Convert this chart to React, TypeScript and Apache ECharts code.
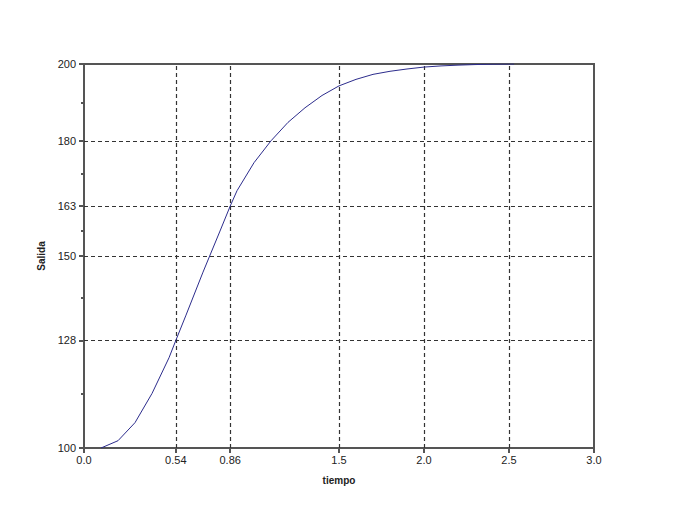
import React, { useEffect, useRef } from "react";
import * as echarts from "echarts";

const timeValues = [0.1, 0.2, 0.3, 0.4, 0.5, 0.54, 0.6, 0.7, 0.8, 0.86, 0.9, 1.0, 1.1, 1.2, 1.3, 1.4, 1.5, 1.6, 1.7, 1.8, 1.9, 2.0, 2.1, 2.2, 2.3, 2.4, 2.5, 2.53];
const outputValues = [100, 101.9, 106.6, 114.2, 123.5, 128, 134.6, 145.8, 156.5, 163, 167, 174.3, 180, 184.8, 188.6, 191.8, 194.3, 196.0, 197.3, 198.1, 198.7, 199.2, 199.5, 199.7, 199.85, 199.95, 200, 200];

const xTicks = [0, 0.54, 0.86, 1.5, 2.0, 2.5, 3.0];
const xTickLabels = ["0.0", "0.54", "0.86", "1.5", "2.0", "2.5", "3.0"];
const yTicks = [100, 128, 150, 163, 180, 200];
const yTickLabels = ["100", "128", "150", "163", "180", "200"];
const yMinorTicks = [114, 139, 156.5, 171.5, 190];
const xGridLines = [0.54, 0.86, 1.5, 2.0, 2.5];
const yGridLines = [128, 150, 163, 180];

export default function App() {
  const ref = useRef<HTMLDivElement>(null);
  useEffect(() => {
    if (!ref.current) return;
    const chart = echarts.init(ref.current, null, { renderer: "svg" });
    const axisColor = "#555";
    const labelStyle = { color: "#222", fontSize: 11, fontFamily: "Liberation Sans, Arial, sans-serif" };
    const xLabelMap: Record<string, string> = {};
    xTicks.forEach((v, i) => (xLabelMap[String(v)] = xTickLabels[i]));
    const yLabelMap: Record<string, string> = {};
    yTicks.forEach((v, i) => (yLabelMap[String(v)] = yTickLabels[i]));
    chart.setOption({
      animation: false,
      backgroundColor: "#fff",
      grid: { left: 84, right: 85, top: 64, bottom: 64, show: true, borderColor: axisColor, borderWidth: 2, backgroundColor: "transparent" },
      xAxis: {
        type: "value",
        min: 0,
        max: 3,
        name: "tiempo",
        nameLocation: "middle",
        nameGap: 27,
        nameTextStyle: { color: "#222", fontSize: 10, fontWeight: "bold", fontFamily: "Liberation Sans, Arial, sans-serif" },
        axisLine: { show: true, lineStyle: { color: axisColor, width: 2 } },
        axisTick: { show: true, length: 5, customValues: xTicks, lineStyle: { color: axisColor, width: 2 } },
        axisLabel: { ...labelStyle, margin: 6, customValues: xTicks, formatter: (v: number) => xLabelMap[String(v)] ?? "" },
        splitLine: { show: false },
      },
      yAxis: [
        {
          type: "value",
          min: 100,
          max: 200,
          name: "Salida",
          nameLocation: "middle",
          nameGap: 38,
          nameRotate: 90,
          nameTextStyle: { color: "#222", fontSize: 10, fontWeight: "bold", fontFamily: "Liberation Sans, Arial, sans-serif" },
          axisLine: { show: true, lineStyle: { color: axisColor, width: 2 } },
          axisTick: { show: true, length: 5, customValues: yTicks, lineStyle: { color: axisColor, width: 2 } },
          axisLabel: { ...labelStyle, margin: 8, customValues: yTicks, formatter: (v: number) => yLabelMap[String(v)] ?? "" },
          splitLine: { show: false },
        },
        {
          type: "value",
          min: 100,
          max: 200,
          position: "left",
          axisLine: { show: false },
          axisTick: { show: true, length: 3, customValues: yMinorTicks, lineStyle: { color: axisColor, width: 2 } },
          axisLabel: { show: false, customValues: yMinorTicks },
          splitLine: { show: false },
        },
      ],
      series: [
        {
          type: "line",
          data: timeValues.map((t, i) => [t, outputValues[i]]),
          showSymbol: false,
          symbol: "none",
          lineStyle: { color: "#2c2c8c", width: 1 },
          z: 5,
          markLine: {
            silent: true,
            symbol: "none",
            label: { show: false },
            lineStyle: { color: "#333", type: [4, 3], width: 1.2 },
            data: [
              ...xGridLines.map((v) => ({ xAxis: v })),
              ...yGridLines.map((v) => ({ yAxis: v })),
            ],
          },
        },
      ],
    });
    return () => chart.dispose();
  }, []);
  return <div ref={ref} style={{ position: "fixed", left: 0, top: 0, width: 679, height: 512 }} />;
}
